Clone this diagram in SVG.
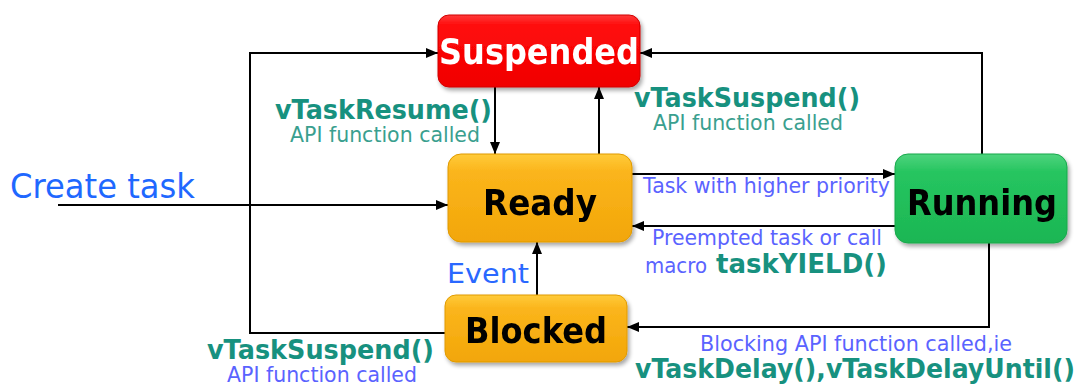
<svg xmlns="http://www.w3.org/2000/svg" width="1085" height="387" viewBox="0 0 1085 387">
  <defs>
    <linearGradient id="gRed" x1="0" y1="0" x2="0" y2="1">
      <stop offset="0" stop-color="#ff3a3a"/>
      <stop offset="0.15" stop-color="#ff0a0a"/>
      <stop offset="1" stop-color="#f00000"/>
    </linearGradient>
    <linearGradient id="gOrange" x1="0" y1="0" x2="0" y2="1">
      <stop offset="0" stop-color="#ffcb3a"/>
      <stop offset="0.2" stop-color="#fbb51c"/>
      <stop offset="1" stop-color="#f2a608"/>
    </linearGradient>
    <linearGradient id="gGreen" x1="0" y1="0" x2="0" y2="1">
      <stop offset="0" stop-color="#4fd47e"/>
      <stop offset="0.2" stop-color="#26c560"/>
      <stop offset="1" stop-color="#1cb653"/>
    </linearGradient>
    <filter id="shadow" x="-10%" y="-10%" width="125%" height="130%">
      <feGaussianBlur in="SourceAlpha" stdDeviation="2"/>
      <feOffset dx="2" dy="3" result="b"/>
      <feComponentTransfer><feFuncA type="linear" slope="0.35"/></feComponentTransfer>
      <feMerge><feMergeNode/><feMergeNode in="SourceGraphic"/></feMerge>
    </filter>
    <marker id="arrow" viewBox="0 0 12 10" refX="12" refY="5" markerWidth="12" markerHeight="10" markerUnits="userSpaceOnUse" orient="auto">
      <path d="M0,0 L12,5 L0,10 z" fill="#000"/>
    </marker>
  </defs>
  <style>
    .node-label { font-family: "DejaVu Sans", Verdana, sans-serif; font-weight: bold; font-size: 36px; text-anchor: middle; }
    .edge { fill: none; stroke: #000; stroke-width: 2; marker-end: url(#arrow); }
    .fn { font-family: "DejaVu Sans", Verdana, sans-serif; font-weight: bold; font-size: 26px; fill: #17917f; }
    .note { font-family: "DejaVu Sans", Verdana, sans-serif; font-size: 21px; }
    .teal { fill: #3a9f8f; }
    .blue { fill: #5a63ff; }
  </style>

  <rect width="1085" height="387" fill="#ffffff"/>

  <!-- connectors -->
  <g id="connectors">
    <line class="edge" x1="58" y1="205" x2="448" y2="205"/>
    <polyline class="edge" points="445,333 250,333 250,53 438,53"/>
    <polyline class="edge" points="982,154 982,53 640,53"/>
    <line class="edge" x1="495" y1="87" x2="495" y2="154"/>
    <line class="edge" x1="599" y1="154" x2="599" y2="87"/>
    <line class="edge" x1="537" y1="295" x2="537" y2="242"/>
    <line class="edge" x1="632" y1="174" x2="895" y2="174"/>
    <line class="edge" x1="895" y1="226" x2="632" y2="226"/>
    <polyline class="edge" points="989,243 989,327 627,327"/>
  </g>

  <!-- connector labels -->
  <g id="labels">
    <text x="10" y="198" font-family="DejaVu Sans, Verdana, sans-serif" font-size="33" fill="#1f68ff" textLength="185" lengthAdjust="spacingAndGlyphs">Create task</text>

    <text class="fn" x="275" y="119" textLength="217" lengthAdjust="spacingAndGlyphs">vTaskResume()</text>
    <text class="note teal" x="290" y="142" textLength="190" lengthAdjust="spacingAndGlyphs">API function called</text>

    <text class="fn" x="634" y="107" textLength="226" lengthAdjust="spacingAndGlyphs">vTaskSuspend()</text>
    <text class="note teal" x="653" y="130" textLength="190" lengthAdjust="spacingAndGlyphs">API function called</text>

    <text class="note blue" x="643" y="193" textLength="247" lengthAdjust="spacingAndGlyphs">Task with higher priority</text>
    <text class="note blue" x="652" y="245" textLength="230" lengthAdjust="spacingAndGlyphs">Preempted task or call</text>
    <text class="note blue" x="645" y="273" textLength="62" lengthAdjust="spacingAndGlyphs">macro</text>
    <text class="fn" x="716" y="273" textLength="171" lengthAdjust="spacingAndGlyphs">taskYIELD()</text>

    <text x="447" y="283" font-family="DejaVu Sans, Verdana, sans-serif" font-size="26" fill="#2a68ff" textLength="82" lengthAdjust="spacingAndGlyphs">Event</text>

    <text class="fn" x="207" y="359" textLength="227" lengthAdjust="spacingAndGlyphs">vTaskSuspend()</text>
    <text class="note blue" x="227" y="382" textLength="190" lengthAdjust="spacingAndGlyphs">API function called</text>

    <text class="note blue" x="700" y="351" textLength="312" lengthAdjust="spacingAndGlyphs">Blocking API  function called,ie</text>
    <text class="fn" x="635" y="378" font-size="25" textLength="440" lengthAdjust="spacingAndGlyphs">vTaskDelay(),vTaskDelayUntil()</text>
  </g>

  <!-- states -->
  <g id="suspended" filter="url(#shadow)">
    <rect x="438" y="15" width="202" height="72" rx="11" fill="url(#gRed)" stroke="#d00000" stroke-width="1"/>
    <text class="node-label" x="539" y="64" fill="#ffffff" textLength="200" lengthAdjust="spacingAndGlyphs">Suspended</text>
  </g>
  <g id="ready" filter="url(#shadow)">
    <rect x="448" y="154" width="184" height="88" rx="13" fill="url(#gOrange)" stroke="#e09a00" stroke-width="1"/>
    <text class="node-label" x="540" y="215" fill="#000000" textLength="114" lengthAdjust="spacingAndGlyphs">Ready</text>
  </g>
  <g id="running" filter="url(#shadow)">
    <rect x="895" y="154" width="172" height="89" rx="13" fill="url(#gGreen)" stroke="#18a84b" stroke-width="1"/>
    <text class="node-label" x="982" y="215" fill="#000000" textLength="150" lengthAdjust="spacingAndGlyphs">Running</text>
  </g>
  <g id="blocked" filter="url(#shadow)">
    <rect x="445" y="295" width="182" height="67" rx="11" fill="url(#gOrange)" stroke="#e09a00" stroke-width="1"/>
    <text class="node-label" x="536" y="343" fill="#000000" textLength="142" lengthAdjust="spacingAndGlyphs">Blocked</text>
  </g>
</svg>
